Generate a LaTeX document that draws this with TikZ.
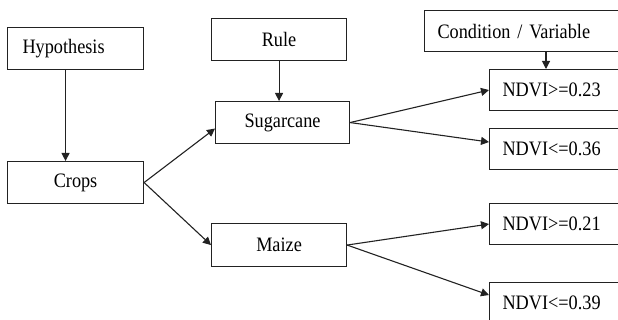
\documentclass[tikz,border=0pt]{standalone}
\usepackage{fontspec}
\setmainfont[FakeStretch=0.89]{Liberation Serif}
\usepackage{tikz}
\usetikzlibrary{arrows.meta,positioning,calc}
\definecolor{lineC}{RGB}{34,34,34}
\tikzset{
  box/.style={rectangle, draw=lineC, line width=1.1pt, fill=white, inner sep=0pt,
              minimum height=42pt, font=\rmfamily\fontsize{20.5}{24}\selectfont},
  cbox/.style={box, minimum width=#1},
  lbox/.style={box, inner xsep=#1, align=left},
  arr/.style={-{Triangle[length=8pt,width=8pt]}, line width=1.1pt, draw=lineC},
}
\begin{document}
\begin{tikzpicture}[x=1pt,y=-1pt]
  \useasboundingbox (0,0) rectangle (618,320);
  \clip (0,0) rectangle (618,320);
  % left column
  \node[lbox=15pt, text width=106pt, anchor=north west] (hyp) at (7,27) {Hypothesis};
  \node[cbox=136pt, anchor=north west] (crops) at (7,161) {Crops};
  % middle column
  \node[cbox=135pt, anchor=north west] (rule) at (211,18) {Rule};
  \node[cbox=134pt, anchor=north west] (sug) at (215,101) {Sugarcane};
  \node[cbox=135pt, anchor=north west, minimum height=43pt] (maize) at (211,223) {Maize};
  % right column (boxes run past the edge)
  \node[lbox=13pt, text width=200pt, anchor=north west, minimum height=41pt] (cv) at (424,10) {Condition / Variable};
  \node[lbox=13pt, text width=160pt, anchor=north west, minimum height=41pt] (ndvia) at (489,69) {NDVI>=0.23};
  \node[lbox=13pt, text width=160pt, anchor=north west, minimum height=41pt] (ndvib) at (489,128) {NDVI<=0.36};
  \node[lbox=13pt, text width=160pt, anchor=north west, minimum height=41pt] (ndvic) at (489,203) {NDVI>=0.21};
  \node[lbox=13pt, text width=160pt, anchor=north west, minimum height=41pt] (ndvid) at (489,282) {NDVI<=0.39};
  \coordinate (cvdrop) at ($(ndvia.north west)+(57,0)$);
  % connectors
  \draw[arr] ([xshift=-10pt]hyp.south) -- ([xshift=-10pt]crops.north);
  \draw[arr] (rule.south) -- (rule.south |- sug.north);
  \draw[arr] (cv.south -| cvdrop) -- (cvdrop);
  \draw[arr] (crops.east) -- ([yshift=-6pt]sug.west);
  \draw[arr] (crops.east) -- (maize.west);
  \draw[arr] (sug.east) -- (ndvia.west);
  \draw[arr] (sug.east) -- ([yshift=7pt]ndvib.west);
  \draw[arr] (maize.east) -- (ndvic.west);
  \draw[arr] (maize.east) -- ([yshift=8pt]ndvid.west);
\end{tikzpicture}
\end{document}
